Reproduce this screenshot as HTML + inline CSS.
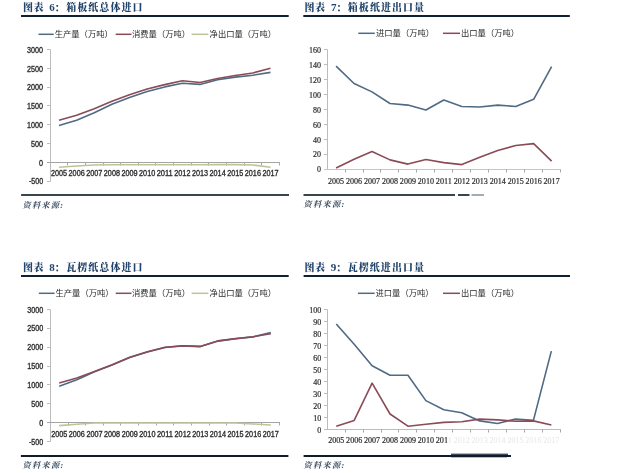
<!DOCTYPE html>
<html><head><meta charset="utf-8"><style>
html,body{margin:0;padding:0;background:#fff;}
body{width:618px;height:473px;overflow:hidden;}
svg{display:block;}
.tt{font-family:"Liberation Serif","Noto Serif CJK SC",serif;font-weight:900;font-size:10px;fill:#22436a;}
.tc{font-family:"Liberation Serif","Noto Serif CJK JP",serif;font-weight:900;font-size:10px;fill:#22436a;}
.td{font-family:"Liberation Serif",serif;font-weight:bold;font-size:11px;fill:#22436a;}
.lg{font-family:"Liberation Sans", "Noto Sans CJK SC", sans-serif;font-size:8.3px;font-weight:400;fill:#2a2a2a;}
.yl{font-family:"Liberation Sans", "Noto Sans CJK SC", sans-serif;font-size:8.2px;fill:#2e2e2e;text-anchor:end;stroke:#2e2e2e;stroke-width:0.35px;}
.xl{font-family:"Liberation Sans", "Noto Sans CJK SC", sans-serif;font-size:8.2px;fill:#2e2e2e;text-anchor:middle;stroke:#2e2e2e;stroke-width:0.35px;}
.s{font-family:"Liberation Serif",serif;font-size:7.9px;stroke-width:0.2px;}
.src{font-family:"Liberation Serif","Noto Serif CJK SC",serif;font-style:italic;font-weight:700;font-size:8.2px;fill:#3b4d60;letter-spacing:1.3px;}
</style></head><body>
<svg width="618" height="473" viewBox="0 0 618 473">
<rect width="618" height="473" fill="#fff"/>
<g>
<text x="23 33.4" y="11.2" class="tt">图表</text>
<text x="49.3" y="11.2" class="td">6</text>
<text x="52.3" y="12.1" class="tc">：</text>
<text x="66.2 77.25 88.3 99.35 110.4 121.45 132.5" y="11.2" class="tt">箱板纸总体进口</text>
<rect x="21" y="15" width="267.7" height="2" fill="#0f2033"/>
<line x1="38.5" y1="34.3" x2="53.7" y2="34.3" stroke="#4f6a84" stroke-width="1.5"/>
<text x="54.7" y="36.6" class="lg">生产量（万吨）</text>
<line x1="115.7" y1="34.3" x2="131.5" y2="34.3" stroke="#8a4b56" stroke-width="1.5"/>
<text x="132" y="36.6" class="lg">消费量（万吨）</text>
<line x1="191.6" y1="34.3" x2="208.4" y2="34.3" stroke="#bfc39a" stroke-width="1.5"/>
<text x="209.6" y="36.6" class="lg">净出口量（万吨）</text>
<line x1="50.5" y1="49.5" x2="50.5" y2="181.5" stroke="#bcbcbc" stroke-width="1"/>
<line x1="47" y1="49.5" x2="50.5" y2="49.5" stroke="#bcbcbc" stroke-width="1"/>
<text x="43.1" y="52.7" class="yl" textLength="16" lengthAdjust="spacingAndGlyphs">3000</text>
<line x1="47" y1="68.5" x2="50.5" y2="68.5" stroke="#bcbcbc" stroke-width="1"/>
<text x="43.1" y="71.5" class="yl" textLength="16" lengthAdjust="spacingAndGlyphs">2500</text>
<line x1="47" y1="87.5" x2="50.5" y2="87.5" stroke="#bcbcbc" stroke-width="1"/>
<text x="43.1" y="90.3" class="yl" textLength="16" lengthAdjust="spacingAndGlyphs">2000</text>
<line x1="47" y1="105.5" x2="50.5" y2="105.5" stroke="#bcbcbc" stroke-width="1"/>
<text x="43.1" y="109.1" class="yl" textLength="16" lengthAdjust="spacingAndGlyphs">1500</text>
<line x1="47" y1="124.5" x2="50.5" y2="124.5" stroke="#bcbcbc" stroke-width="1"/>
<text x="43.1" y="127.9" class="yl" textLength="16" lengthAdjust="spacingAndGlyphs">1000</text>
<line x1="47" y1="143.5" x2="50.5" y2="143.5" stroke="#bcbcbc" stroke-width="1"/>
<text x="43.1" y="146.7" class="yl" textLength="12" lengthAdjust="spacingAndGlyphs">500</text>
<line x1="47" y1="162.5" x2="50.5" y2="162.5" stroke="#bcbcbc" stroke-width="1"/>
<text x="43.1" y="165.5" class="yl" textLength="4" lengthAdjust="spacingAndGlyphs">0</text>
<line x1="47" y1="181.5" x2="50.5" y2="181.5" stroke="#bcbcbc" stroke-width="1"/>
<text x="43.1" y="184.3" class="yl" textLength="14.2" lengthAdjust="spacingAndGlyphs">-500</text>
<line x1="47" y1="162.5" x2="279.8" y2="162.5" stroke="#a4a4a4" stroke-width="1"/>
<line x1="67.5" y1="162.5" x2="67.5" y2="165.5" stroke="#a8a8a8" stroke-width="1"/>
<line x1="85.5" y1="162.5" x2="85.5" y2="165.5" stroke="#a8a8a8" stroke-width="1"/>
<line x1="103.5" y1="162.5" x2="103.5" y2="165.5" stroke="#a8a8a8" stroke-width="1"/>
<line x1="120.5" y1="162.5" x2="120.5" y2="165.5" stroke="#a8a8a8" stroke-width="1"/>
<line x1="138.5" y1="162.5" x2="138.5" y2="165.5" stroke="#a8a8a8" stroke-width="1"/>
<line x1="155.5" y1="162.5" x2="155.5" y2="165.5" stroke="#a8a8a8" stroke-width="1"/>
<line x1="173.5" y1="162.5" x2="173.5" y2="165.5" stroke="#a8a8a8" stroke-width="1"/>
<line x1="191.5" y1="162.5" x2="191.5" y2="165.5" stroke="#a8a8a8" stroke-width="1"/>
<line x1="208.5" y1="162.5" x2="208.5" y2="165.5" stroke="#a8a8a8" stroke-width="1"/>
<line x1="226.5" y1="162.5" x2="226.5" y2="165.5" stroke="#a8a8a8" stroke-width="1"/>
<line x1="244.5" y1="162.5" x2="244.5" y2="165.5" stroke="#a8a8a8" stroke-width="1"/>
<line x1="261.5" y1="162.5" x2="261.5" y2="165.5" stroke="#a8a8a8" stroke-width="1"/>
<line x1="279.5" y1="162.5" x2="279.5" y2="165.5" stroke="#a8a8a8" stroke-width="1"/>
<text x="59.01" y="176.1" class="xl" textLength="16.1" lengthAdjust="spacingAndGlyphs">2005</text>
<text x="76.63" y="176.1" class="xl" textLength="16.1" lengthAdjust="spacingAndGlyphs">2006</text>
<text x="94.26" y="176.1" class="xl" textLength="16.1" lengthAdjust="spacingAndGlyphs">2007</text>
<text x="111.88" y="176.1" class="xl" textLength="16.1" lengthAdjust="spacingAndGlyphs">2008</text>
<text x="129.5" y="176.1" class="xl" textLength="16.1" lengthAdjust="spacingAndGlyphs">2009</text>
<text x="147.13" y="176.1" class="xl" textLength="16.1" lengthAdjust="spacingAndGlyphs">2010</text>
<text x="164.75" y="176.1" class="xl" textLength="16.1" lengthAdjust="spacingAndGlyphs">2011</text>
<text x="182.37" y="176.1" class="xl" textLength="16.1" lengthAdjust="spacingAndGlyphs">2012</text>
<text x="200" y="176.1" class="xl" textLength="16.1" lengthAdjust="spacingAndGlyphs">2013</text>
<text x="217.62" y="176.1" class="xl" textLength="16.1" lengthAdjust="spacingAndGlyphs">2014</text>
<text x="235.24" y="176.1" class="xl" textLength="16.1" lengthAdjust="spacingAndGlyphs">2015</text>
<text x="252.87" y="176.1" class="xl" textLength="16.1" lengthAdjust="spacingAndGlyphs">2016</text>
<text x="270.49" y="176.1" class="xl" textLength="16.1" lengthAdjust="spacingAndGlyphs">2017</text>
<polyline points="59.01,125.5 76.63,120.2 94.26,112.8 111.88,104.2 129.5,97.4 147.13,91.5 164.75,86.9 182.37,83.2 200,84.4 217.62,79.7 235.24,77.1 252.87,75.2 270.49,72.4" fill="none" stroke="#4f6a84" stroke-width="1.6" stroke-linejoin="round"/>
<polyline points="59.01,120.2 76.63,115.3 94.26,108.7 111.88,101.3 129.5,94.8 147.13,89 164.75,84.6 182.37,80.8 200,82.5 217.62,78.5 235.24,75.5 252.87,73 270.49,68.2" fill="none" stroke="#8a4b56" stroke-width="1.6" stroke-linejoin="round"/>
<polyline points="59.01,167.3 76.63,166 94.26,165 111.88,164.8 129.5,164.8 147.13,164.8 164.75,164.8 182.37,164.8 200,164.7 217.62,164.6 235.24,164.6 252.87,165 270.49,167.2" fill="none" stroke="#bfc39a" stroke-width="1.6" stroke-linejoin="round"/>
<rect x="21.1" y="194" width="267.9" height="2" fill="#37464c"/>
<text x="22.4" y="207.6" class="src">资料来源:</text>
</g>
<g>
<text x="304.6 315" y="11.2" class="tt">图表</text>
<text x="330.9" y="11.2" class="td">7</text>
<text x="333.9" y="12.1" class="tc">：</text>
<text x="347.8 358.85 369.9 380.95 392 403.05 414.1" y="11.2" class="tt">箱板纸进出口量</text>
<rect x="303.3" y="15" width="266.5" height="2" fill="#0f2033"/>
<line x1="358.3" y1="33.3" x2="374.8" y2="33.3" stroke="#4f6a84" stroke-width="1.5"/>
<text x="376" y="35.6" class="lg">进口量（万吨）</text>
<line x1="443" y1="33.3" x2="460" y2="33.3" stroke="#8a4b56" stroke-width="1.5"/>
<text x="461" y="35.6" class="lg">出口量（万吨）</text>
<line x1="327.5" y1="49.5" x2="327.5" y2="169.5" stroke="#bcbcbc" stroke-width="1"/>
<line x1="324" y1="49.5" x2="327.5" y2="49.5" stroke="#bcbcbc" stroke-width="1"/>
<text x="320.9" y="52.8" class="yl s" textLength="12" lengthAdjust="spacingAndGlyphs">160</text>
<line x1="324" y1="64.5" x2="327.5" y2="64.5" stroke="#bcbcbc" stroke-width="1"/>
<text x="320.9" y="67.75" class="yl s" textLength="12" lengthAdjust="spacingAndGlyphs">140</text>
<line x1="324" y1="79.5" x2="327.5" y2="79.5" stroke="#bcbcbc" stroke-width="1"/>
<text x="320.9" y="82.7" class="yl s" textLength="12" lengthAdjust="spacingAndGlyphs">120</text>
<line x1="324" y1="94.5" x2="327.5" y2="94.5" stroke="#bcbcbc" stroke-width="1"/>
<text x="320.9" y="97.65" class="yl s" textLength="12" lengthAdjust="spacingAndGlyphs">100</text>
<line x1="324" y1="109.5" x2="327.5" y2="109.5" stroke="#bcbcbc" stroke-width="1"/>
<text x="320.9" y="112.6" class="yl s" textLength="8" lengthAdjust="spacingAndGlyphs">80</text>
<line x1="324" y1="124.5" x2="327.5" y2="124.5" stroke="#bcbcbc" stroke-width="1"/>
<text x="320.9" y="127.55" class="yl s" textLength="8" lengthAdjust="spacingAndGlyphs">60</text>
<line x1="324" y1="139.5" x2="327.5" y2="139.5" stroke="#bcbcbc" stroke-width="1"/>
<text x="320.9" y="142.5" class="yl s" textLength="8" lengthAdjust="spacingAndGlyphs">40</text>
<line x1="324" y1="154.5" x2="327.5" y2="154.5" stroke="#bcbcbc" stroke-width="1"/>
<text x="320.9" y="157.45" class="yl s" textLength="8" lengthAdjust="spacingAndGlyphs">20</text>
<line x1="324" y1="169.5" x2="327.5" y2="169.5" stroke="#bcbcbc" stroke-width="1"/>
<text x="320.9" y="172.4" class="yl s" textLength="4" lengthAdjust="spacingAndGlyphs">0</text>
<line x1="324" y1="169.5" x2="561.1" y2="169.5" stroke="#c4c6c6" stroke-width="1"/>
<line x1="345.5" y1="169.5" x2="345.5" y2="172.5" stroke="#a8a8a8" stroke-width="1"/>
<line x1="363.5" y1="169.5" x2="363.5" y2="172.5" stroke="#a8a8a8" stroke-width="1"/>
<line x1="380.5" y1="169.5" x2="380.5" y2="172.5" stroke="#a8a8a8" stroke-width="1"/>
<line x1="398.5" y1="169.5" x2="398.5" y2="172.5" stroke="#a8a8a8" stroke-width="1"/>
<line x1="416.5" y1="169.5" x2="416.5" y2="172.5" stroke="#a8a8a8" stroke-width="1"/>
<line x1="434.5" y1="169.5" x2="434.5" y2="172.5" stroke="#a8a8a8" stroke-width="1"/>
<line x1="452.5" y1="169.5" x2="452.5" y2="172.5" stroke="#a8a8a8" stroke-width="1"/>
<line x1="470.5" y1="169.5" x2="470.5" y2="172.5" stroke="#a8a8a8" stroke-width="1"/>
<line x1="488.5" y1="169.5" x2="488.5" y2="172.5" stroke="#a8a8a8" stroke-width="1"/>
<line x1="506.5" y1="169.5" x2="506.5" y2="172.5" stroke="#a8a8a8" stroke-width="1"/>
<line x1="524.5" y1="169.5" x2="524.5" y2="172.5" stroke="#a8a8a8" stroke-width="1"/>
<line x1="542.5" y1="169.5" x2="542.5" y2="172.5" stroke="#a8a8a8" stroke-width="1"/>
<line x1="560.5" y1="169.5" x2="560.5" y2="172.5" stroke="#a8a8a8" stroke-width="1"/>
<text x="336.08" y="183.9" class="xl s" textLength="16.1" lengthAdjust="spacingAndGlyphs">2005</text>
<text x="354.04" y="183.9" class="xl s" textLength="16.1" lengthAdjust="spacingAndGlyphs">2006</text>
<text x="372" y="183.9" class="xl s" textLength="16.1" lengthAdjust="spacingAndGlyphs">2007</text>
<text x="389.97" y="183.9" class="xl s" textLength="16.1" lengthAdjust="spacingAndGlyphs">2008</text>
<text x="407.93" y="183.9" class="xl s" textLength="16.1" lengthAdjust="spacingAndGlyphs">2009</text>
<text x="425.89" y="183.9" class="xl s" textLength="16.1" lengthAdjust="spacingAndGlyphs">2010</text>
<text x="443.85" y="183.9" class="xl s" textLength="16.1" lengthAdjust="spacingAndGlyphs">2011</text>
<text x="461.81" y="183.9" class="xl s" textLength="16.1" lengthAdjust="spacingAndGlyphs">2012</text>
<text x="479.77" y="183.9" class="xl s" textLength="16.1" lengthAdjust="spacingAndGlyphs">2013</text>
<text x="497.73" y="183.9" class="xl s" textLength="16.1" lengthAdjust="spacingAndGlyphs">2014</text>
<text x="515.7" y="183.9" class="xl s" textLength="16.1" lengthAdjust="spacingAndGlyphs">2015</text>
<text x="533.66" y="183.9" class="xl s" textLength="16.1" lengthAdjust="spacingAndGlyphs">2016</text>
<text x="551.62" y="183.9" class="xl s" textLength="16.1" lengthAdjust="spacingAndGlyphs">2017</text>
<polyline points="336.08,66.1 354.04,83.5 372,91.9 389.97,103.5 407.93,105.1 425.89,110 443.85,100 461.81,106.5 479.77,107 497.73,105.1 515.7,106.5 533.66,99.3 551.62,66.7" fill="none" stroke="#4f6a84" stroke-width="1.6" stroke-linejoin="round"/>
<polyline points="336.08,168 354.04,159.3 372,151.5 389.97,159.9 407.93,164.1 425.89,159.5 443.85,162.6 461.81,164.6 479.77,157.2 497.73,150.4 515.7,145.5 533.66,143.6 551.62,161.1" fill="none" stroke="#8a4b56" stroke-width="1.6" stroke-linejoin="round"/>
<rect x="303.5" y="194" width="151.5" height="2" fill="#37464c"/>
<rect x="458" y="194" width="11.5" height="2" fill="#37464c"/>
<rect x="471.5" y="194" width="12.5" height="2" fill="#37464c" opacity="0.45"/>
<text x="303.6" y="207.2" class="src">资料来源:</text>
</g>
<g>
<text x="23 33.4" y="271" class="tt">图表</text>
<text x="49.3" y="271" class="td">8</text>
<text x="52.3" y="271.9" class="tc">：</text>
<text x="66.2 77.25 88.3 99.35 110.4 121.45 132.5" y="271" class="tt">瓦楞纸总体进口</text>
<rect x="21" y="275" width="267.7" height="2" fill="#0f2033"/>
<line x1="38.8" y1="293.3" x2="54.6" y2="293.3" stroke="#4f6a84" stroke-width="1.5"/>
<text x="55.5" y="295.6" class="lg">生产量（万吨）</text>
<line x1="115.7" y1="293.3" x2="131.5" y2="293.3" stroke="#8a4b56" stroke-width="1.5"/>
<text x="132" y="295.6" class="lg">消费量（万吨）</text>
<line x1="191.6" y1="293.3" x2="208.4" y2="293.3" stroke="#bfc39a" stroke-width="1.5"/>
<text x="209.6" y="295.6" class="lg">净出口量（万吨）</text>
<line x1="50.5" y1="309.5" x2="50.5" y2="441.5" stroke="#bcbcbc" stroke-width="1"/>
<line x1="47" y1="309.5" x2="50.5" y2="309.5" stroke="#bcbcbc" stroke-width="1"/>
<text x="43.2" y="312.5" class="yl" textLength="16" lengthAdjust="spacingAndGlyphs">3000</text>
<line x1="47" y1="328.5" x2="50.5" y2="328.5" stroke="#bcbcbc" stroke-width="1"/>
<text x="43.2" y="331.4" class="yl" textLength="16" lengthAdjust="spacingAndGlyphs">2500</text>
<line x1="47" y1="347.5" x2="50.5" y2="347.5" stroke="#bcbcbc" stroke-width="1"/>
<text x="43.2" y="350.3" class="yl" textLength="16" lengthAdjust="spacingAndGlyphs">2000</text>
<line x1="47" y1="366.5" x2="50.5" y2="366.5" stroke="#bcbcbc" stroke-width="1"/>
<text x="43.2" y="369.2" class="yl" textLength="16" lengthAdjust="spacingAndGlyphs">1500</text>
<line x1="47" y1="384.5" x2="50.5" y2="384.5" stroke="#bcbcbc" stroke-width="1"/>
<text x="43.2" y="388.1" class="yl" textLength="16" lengthAdjust="spacingAndGlyphs">1000</text>
<line x1="47" y1="403.5" x2="50.5" y2="403.5" stroke="#bcbcbc" stroke-width="1"/>
<text x="43.2" y="407" class="yl" textLength="12" lengthAdjust="spacingAndGlyphs">500</text>
<line x1="47" y1="422.5" x2="50.5" y2="422.5" stroke="#bcbcbc" stroke-width="1"/>
<text x="43.2" y="425.9" class="yl" textLength="4" lengthAdjust="spacingAndGlyphs">0</text>
<line x1="47" y1="441.5" x2="50.5" y2="441.5" stroke="#bcbcbc" stroke-width="1"/>
<text x="43.2" y="444.8" class="yl" textLength="14.2" lengthAdjust="spacingAndGlyphs">-500</text>
<line x1="47" y1="422.5" x2="280.1" y2="422.5" stroke="#a4a4a4" stroke-width="1"/>
<line x1="68.5" y1="422.5" x2="68.5" y2="425.5" stroke="#a8a8a8" stroke-width="1"/>
<line x1="85.5" y1="422.5" x2="85.5" y2="425.5" stroke="#a8a8a8" stroke-width="1"/>
<line x1="103.5" y1="422.5" x2="103.5" y2="425.5" stroke="#a8a8a8" stroke-width="1"/>
<line x1="120.5" y1="422.5" x2="120.5" y2="425.5" stroke="#a8a8a8" stroke-width="1"/>
<line x1="138.5" y1="422.5" x2="138.5" y2="425.5" stroke="#a8a8a8" stroke-width="1"/>
<line x1="156.5" y1="422.5" x2="156.5" y2="425.5" stroke="#a8a8a8" stroke-width="1"/>
<line x1="173.5" y1="422.5" x2="173.5" y2="425.5" stroke="#a8a8a8" stroke-width="1"/>
<line x1="191.5" y1="422.5" x2="191.5" y2="425.5" stroke="#a8a8a8" stroke-width="1"/>
<line x1="209.5" y1="422.5" x2="209.5" y2="425.5" stroke="#a8a8a8" stroke-width="1"/>
<line x1="226.5" y1="422.5" x2="226.5" y2="425.5" stroke="#a8a8a8" stroke-width="1"/>
<line x1="244.5" y1="422.5" x2="244.5" y2="425.5" stroke="#a8a8a8" stroke-width="1"/>
<line x1="261.5" y1="422.5" x2="261.5" y2="425.5" stroke="#a8a8a8" stroke-width="1"/>
<line x1="279.5" y1="422.5" x2="279.5" y2="425.5" stroke="#a8a8a8" stroke-width="1"/>
<text x="59.22" y="436.5" class="xl" textLength="16.1" lengthAdjust="spacingAndGlyphs">2005</text>
<text x="76.85" y="436.5" class="xl" textLength="16.1" lengthAdjust="spacingAndGlyphs">2006</text>
<text x="94.48" y="436.5" class="xl" textLength="16.1" lengthAdjust="spacingAndGlyphs">2007</text>
<text x="112.11" y="436.5" class="xl" textLength="16.1" lengthAdjust="spacingAndGlyphs">2008</text>
<text x="129.74" y="436.5" class="xl" textLength="16.1" lengthAdjust="spacingAndGlyphs">2009</text>
<text x="147.37" y="436.5" class="xl" textLength="16.1" lengthAdjust="spacingAndGlyphs">2010</text>
<text x="165" y="436.5" class="xl" textLength="16.1" lengthAdjust="spacingAndGlyphs">2011</text>
<text x="182.63" y="436.5" class="xl" textLength="16.1" lengthAdjust="spacingAndGlyphs">2012</text>
<text x="200.26" y="436.5" class="xl" textLength="16.1" lengthAdjust="spacingAndGlyphs">2013</text>
<text x="217.89" y="436.5" class="xl" textLength="16.1" lengthAdjust="spacingAndGlyphs">2014</text>
<text x="235.52" y="436.5" class="xl" textLength="16.1" lengthAdjust="spacingAndGlyphs">2015</text>
<text x="253.15" y="436.5" class="xl" textLength="16.1" lengthAdjust="spacingAndGlyphs">2016</text>
<text x="270.78" y="436.5" class="xl" textLength="16.1" lengthAdjust="spacingAndGlyphs">2017</text>
<polyline points="59.22,386.2 76.85,379.8 94.48,371.7 112.11,364.9 129.74,357.6 147.37,352 165,347.5 182.63,345.9 200.26,346.6 217.89,341.1 235.52,338.8 253.15,336.9 270.78,332.6" fill="none" stroke="#4f6a84" stroke-width="1.6" stroke-linejoin="round"/>
<polyline points="59.22,383.1 76.85,377.9 94.48,371.5 112.11,364.7 129.74,357.3 147.37,351.7 165,347.2 182.63,345.8 200.26,346.4 217.89,340.9 235.52,338.6 253.15,336.7 270.78,333.7" fill="none" stroke="#8a4b56" stroke-width="1.6" stroke-linejoin="round"/>
<polyline points="59.22,425.6 76.85,424.3 94.48,423 112.11,423 129.74,423 147.37,423 165,423 182.63,423 200.26,423 217.89,423 235.52,423 253.15,424 270.78,425" fill="none" stroke="#bfc39a" stroke-width="1.6" stroke-linejoin="round"/>
<rect x="20.9" y="455" width="267.5" height="2" fill="#0f1c2c"/>
<text x="22.5" y="467.6" class="src">资料来源:</text>
</g>
<g>
<text x="304.5 314.9" y="271" class="tt">图表</text>
<text x="330.8" y="271" class="td">9</text>
<text x="333.8" y="271.9" class="tc">：</text>
<text x="347.7 358.75 369.8 380.85 391.9 402.95 414" y="271" class="tt">瓦楞纸进出口量</text>
<rect x="303.6" y="275" width="266.4" height="2" fill="#0f2033"/>
<line x1="357.9" y1="293.3" x2="374.7" y2="293.3" stroke="#4f6a84" stroke-width="1.5"/>
<text x="375.5" y="295.6" class="lg">进口量（万吨）</text>
<line x1="443" y1="293.3" x2="460" y2="293.3" stroke="#8a4b56" stroke-width="1.5"/>
<text x="461" y="295.6" class="lg">出口量（万吨）</text>
<line x1="327.5" y1="309.5" x2="327.5" y2="429.5" stroke="#bcbcbc" stroke-width="1"/>
<line x1="324" y1="309.5" x2="327.5" y2="309.5" stroke="#bcbcbc" stroke-width="1"/>
<text x="321.2" y="312.5" class="yl s" textLength="12" lengthAdjust="spacingAndGlyphs">100</text>
<line x1="324" y1="321.5" x2="327.5" y2="321.5" stroke="#bcbcbc" stroke-width="1"/>
<text x="321.2" y="324.55" class="yl s" textLength="8" lengthAdjust="spacingAndGlyphs">90</text>
<line x1="324" y1="333.5" x2="327.5" y2="333.5" stroke="#bcbcbc" stroke-width="1"/>
<text x="321.2" y="336.6" class="yl s" textLength="8" lengthAdjust="spacingAndGlyphs">80</text>
<line x1="324" y1="345.5" x2="327.5" y2="345.5" stroke="#bcbcbc" stroke-width="1"/>
<text x="321.2" y="348.65" class="yl s" textLength="8" lengthAdjust="spacingAndGlyphs">70</text>
<line x1="324" y1="357.5" x2="327.5" y2="357.5" stroke="#bcbcbc" stroke-width="1"/>
<text x="321.2" y="360.7" class="yl s" textLength="8" lengthAdjust="spacingAndGlyphs">60</text>
<line x1="324" y1="369.5" x2="327.5" y2="369.5" stroke="#bcbcbc" stroke-width="1"/>
<text x="321.2" y="372.75" class="yl s" textLength="8" lengthAdjust="spacingAndGlyphs">50</text>
<line x1="324" y1="381.5" x2="327.5" y2="381.5" stroke="#bcbcbc" stroke-width="1"/>
<text x="321.2" y="384.8" class="yl s" textLength="8" lengthAdjust="spacingAndGlyphs">40</text>
<line x1="324" y1="393.5" x2="327.5" y2="393.5" stroke="#bcbcbc" stroke-width="1"/>
<text x="321.2" y="396.85" class="yl s" textLength="8" lengthAdjust="spacingAndGlyphs">30</text>
<line x1="324" y1="405.5" x2="327.5" y2="405.5" stroke="#bcbcbc" stroke-width="1"/>
<text x="321.2" y="408.9" class="yl s" textLength="8" lengthAdjust="spacingAndGlyphs">20</text>
<line x1="324" y1="417.5" x2="327.5" y2="417.5" stroke="#bcbcbc" stroke-width="1"/>
<text x="321.2" y="420.95" class="yl s" textLength="8" lengthAdjust="spacingAndGlyphs">10</text>
<line x1="324" y1="429.5" x2="327.5" y2="429.5" stroke="#bcbcbc" stroke-width="1"/>
<text x="321.2" y="433" class="yl s" textLength="4" lengthAdjust="spacingAndGlyphs">0</text>
<line x1="324" y1="429.5" x2="560.8" y2="429.5" stroke="#bcbcbc" stroke-width="1"/>
<line x1="345.5" y1="429.5" x2="345.5" y2="432.5" stroke="#a8a8a8" stroke-width="1"/>
<line x1="363.5" y1="429.5" x2="363.5" y2="432.5" stroke="#a8a8a8" stroke-width="1"/>
<line x1="381.5" y1="429.5" x2="381.5" y2="432.5" stroke="#a8a8a8" stroke-width="1"/>
<line x1="398.5" y1="429.5" x2="398.5" y2="432.5" stroke="#a8a8a8" stroke-width="1"/>
<line x1="416.5" y1="429.5" x2="416.5" y2="432.5" stroke="#a8a8a8" stroke-width="1"/>
<line x1="434.5" y1="429.5" x2="434.5" y2="432.5" stroke="#a8a8a8" stroke-width="1"/>
<line x1="452.5" y1="429.5" x2="452.5" y2="432.5" stroke="#a8a8a8" stroke-width="1"/>
<line x1="470.5" y1="429.5" x2="470.5" y2="432.5" stroke="#a8a8a8" stroke-width="1"/>
<line x1="488.5" y1="429.5" x2="488.5" y2="432.5" stroke="#a8a8a8" stroke-width="1"/>
<line x1="506.5" y1="429.5" x2="506.5" y2="432.5" stroke="#a8a8a8" stroke-width="1"/>
<line x1="524.5" y1="429.5" x2="524.5" y2="432.5" stroke="#a8a8a8" stroke-width="1"/>
<line x1="542.5" y1="429.5" x2="542.5" y2="432.5" stroke="#a8a8a8" stroke-width="1"/>
<line x1="560.5" y1="429.5" x2="560.5" y2="432.5" stroke="#a8a8a8" stroke-width="1"/>
<text x="336.26" y="442.9" class="xl s" textLength="16.1" lengthAdjust="spacingAndGlyphs">2005</text>
<text x="354.18" y="442.9" class="xl s" textLength="16.1" lengthAdjust="spacingAndGlyphs">2006</text>
<text x="372.11" y="442.9" class="xl s" textLength="16.1" lengthAdjust="spacingAndGlyphs">2007</text>
<text x="390.03" y="442.9" class="xl s" textLength="16.1" lengthAdjust="spacingAndGlyphs">2008</text>
<text x="407.95" y="442.9" class="xl s" textLength="16.1" lengthAdjust="spacingAndGlyphs">2009</text>
<text x="425.88" y="442.9" class="xl s" textLength="16.1" lengthAdjust="spacingAndGlyphs">2010</text>
<text x="443.8" y="442.9" class="xl s" textLength="16.1" lengthAdjust="spacingAndGlyphs">2011</text>
<text x="461.72" y="442.9" class="xl s" textLength="16.1" lengthAdjust="spacingAndGlyphs">2012</text>
<text x="479.65" y="442.9" class="xl s" textLength="16.1" lengthAdjust="spacingAndGlyphs">2013</text>
<text x="497.57" y="442.9" class="xl s" textLength="16.1" lengthAdjust="spacingAndGlyphs">2014</text>
<text x="515.49" y="442.9" class="xl s" textLength="16.1" lengthAdjust="spacingAndGlyphs">2015</text>
<text x="533.42" y="442.9" class="xl s" textLength="16.1" lengthAdjust="spacingAndGlyphs">2016</text>
<text x="551.34" y="442.9" class="xl s" textLength="16.1" lengthAdjust="spacingAndGlyphs">2017</text>
<polyline points="336.26,324 354.18,344.3 372.11,365.8 390.03,375.2 407.95,375.2 425.88,400.6 443.8,409.7 461.72,412.8 479.65,420.9 497.57,423.5 515.49,419.1 533.42,420.4 551.34,351.1" fill="none" stroke="#4f6a84" stroke-width="1.6" stroke-linejoin="round"/>
<polyline points="336.26,426.2 354.18,420.4 372.11,383.1 390.03,414 407.95,426.2 425.88,424.2 443.8,422.4 461.72,421.7 479.65,419.1 497.57,419.9 515.49,421.2 533.42,420.9 551.34,425" fill="none" stroke="#8a4b56" stroke-width="1.6" stroke-linejoin="round"/>
<rect x="303.6" y="455" width="207.4" height="2" fill="#0f1c2c"/>
<rect x="451" y="453.6" width="57" height="1.4" fill="#0f1c2c" opacity="0.8"/>
<rect x="451" y="457" width="56" height="0.8" fill="#0f1c2c" opacity="0.35"/>
<rect x="447.5" y="433" width="116" height="13" fill="#fff" opacity="0.9"/>
<text x="303.6" y="467.6" class="src">资料来源:</text>
</g>
</svg>
</body></html>
